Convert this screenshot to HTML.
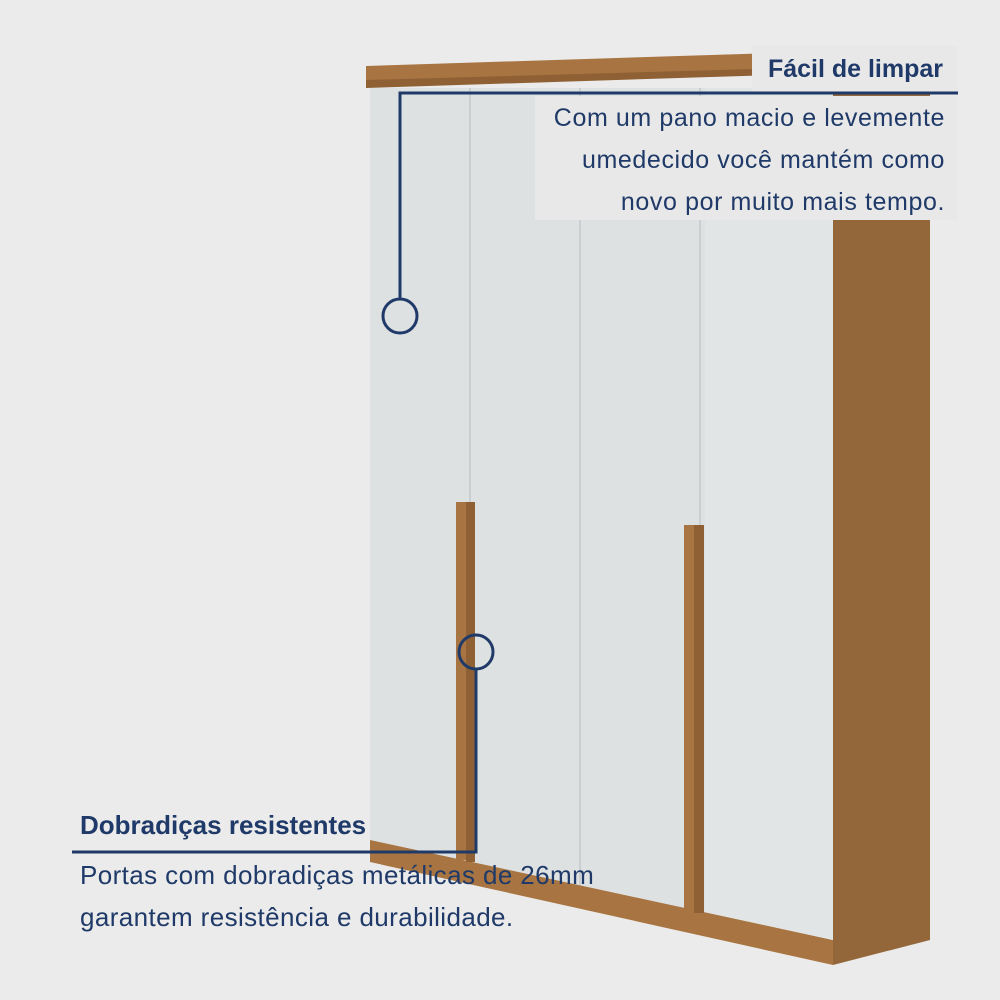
<!DOCTYPE html>
<html><head><style>
body{margin:0;background:#ebebeb;}
svg{display:block}
</style></head><body>
<svg width="1000" height="1000" viewBox="0 0 1000 1000" xmlns="http://www.w3.org/2000/svg">
<rect width="1000" height="1000" fill="#ebebeb"/>
<!-- side panel -->
<polygon points="833,80 930,70 930,940 833,965" fill="#94673a"/>
<!-- plinth -->
<polygon points="370,838 833,940 833,965 370,862" fill="#a87542"/>
<!-- doors -->
<polygon points="370,88 833,88 833,940 370,840" fill="#dde1e2"/>
<line x1="470" y1="88" x2="470" y2="860" stroke="#b8bcbe" stroke-width="1"/>
<line x1="580" y1="88" x2="580" y2="885" stroke="#b8bcbe" stroke-width="1"/>
<line x1="700" y1="88" x2="700" y2="910" stroke="#b8bcbe" stroke-width="1"/>
<polygon points="705,88 833,88 833,940 705,912" fill="#e2e5e6"/>
<!-- handles -->
<rect x="456" y="502" width="10" height="358" fill="#a87542"/>
<rect x="466" y="502" width="9" height="360" fill="#8e6033"/>
<rect x="684" y="525" width="10" height="385" fill="#a87542"/>
<rect x="694" y="525" width="10" height="388" fill="#8e6033"/>
<!-- top trim -->
<polygon points="366,66 930,48 930,70 366,86" fill="#a87542"/>
<polygon points="366,80 930,64 930,70 366,88" fill="#8e6033"/>
<!-- label box -->
<rect x="535" y="96" width="423" height="124" fill="#e8e8e8"/>
<rect x="752" y="46" width="206" height="46" fill="#e8e8e8"/>
<g fill="#1f3a68" font-family="Liberation Sans, sans-serif">
<text x="943" y="77" font-size="25" font-weight="bold" text-anchor="end">Fácil de limpar</text>
<g font-size="25" letter-spacing="0.6" text-anchor="end">
<text x="945" y="126">Com um pano macio e levemente</text>
<text x="945" y="168">umedecido você mantém como</text>
<text x="945" y="210">novo por muito mais tempo.</text>
</g>
<text x="80" y="834" font-size="26" font-weight="bold">Dobradiças resistentes</text>
<text x="80" y="884" font-size="26" letter-spacing="0.4">Portas com dobradiças metálicas de 26mm</text>
<text x="80" y="926" font-size="26" letter-spacing="0.4">garantem resistência e durabilidade.</text>
</g>
<g stroke="#1f3a68" stroke-width="3" fill="none">
<polyline points="958,93 400,93 400,300"/>
<circle cx="400" cy="316" r="17"/>
<polyline points="72,852 476,852 476,669"/>
<circle cx="476" cy="652" r="17"/>
</g>
</svg>
</body></html>
